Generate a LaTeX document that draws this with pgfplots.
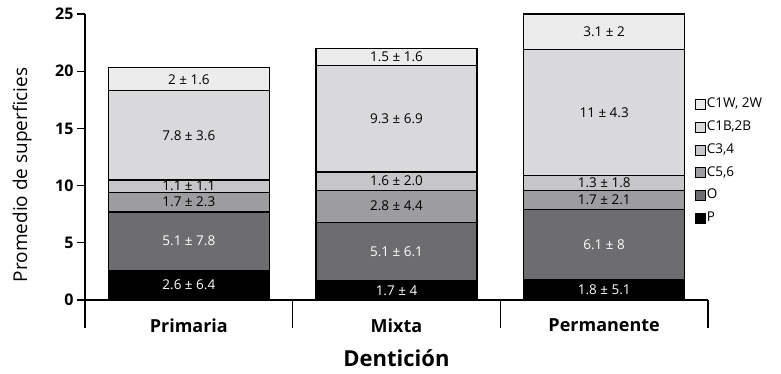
\documentclass[border=0pt]{standalone}
\usepackage{pgfplots}
\usepackage{pgfplotstable}
\pgfplotsset{compat=1.18}
\usepackage{fontspec}
\setmainfont{Open Sans}
\definecolor{cP}{HTML}{000000}
\definecolor{cO}{HTML}{6D6D6F}
\definecolor{cC56}{HTML}{9D9D9F}
\definecolor{cC34}{HTML}{C6C6C8}
\definecolor{cC1B}{HTML}{D9D9DB}
\definecolor{cC1W}{HTML}{ECECEC}
\pgfplotstableread{
x P O C56 C34 C1B C1W
0 2.6 5.1 1.7 1.1 7.8 2
1 1.7 5.1 2.8 1.6 9.3 1.5
2 1.8 6.1 1.7 1.3 11 3.1
}\data
% labels at the middle of each segment
\pgfplotstableread[col sep=comma]{
x,y,l
0,1.3,2.6 ± 6.4
1,0.85,1.7 ± 4
2,0.9,1.8 ± 5.1
0,5.15,5.1 ± 7.8
1,4.25,5.1 ± 6.1
2,4.85,6.1 ± 8
}\whitelabels
\pgfplotstableread[col sep=comma]{
x,y,l
0,8.55,1.7 ± 2.3
1,8.2,2.8 ± 4.4
2,8.75,1.7 ± 2.1
0,9.95,1.1 ± 1.1
1,10.4,1.6 ± 2.0
2,10.25,1.3 ± 1.8
0,14.4,7.8 ± 3.6
1,15.85,9.3 ± 6.9
2,16.4,11 ± 4.3
0,19.3,2 ± 1.6
1,21.25,1.5 ± 1.6
2,23.45,3.1 ± 2
}\blacklabels
\begin{document}
\begin{tikzpicture}
\useasboundingbox (-85pt,-73pt) rectangle (696pt,300pt);
\begin{axis}[
  at={(0pt,0pt)}, anchor=south west,
  scale only axis, width=623pt, height=286pt,
  ybar stacked, bar width=161pt,
  xmin=-0.5, xmax=2.5, ymin=0, ymax=25,
  clip=false,
  axis x line*=bottom, axis y line*=left,
  axis line style={black, line width=1.3pt},
  xtick={0,1,2}, xticklabels={Primaria,Mixta,Permanente},
  major x tick style={draw=none},
  xticklabel style={font=\bfseries\fontsize{18}{18}\selectfont, yshift=-7pt},
  extra x ticks={-0.5,0.5,1.5,2.5}, extra x tick labels={},
  extra x tick style={major tick length=28pt, tick align=outside,
     major x tick style={draw=black, line width=1.3pt}},
  ytick={0,5,...,25}, tick align=outside, major tick length=8pt,
  ytick style={black, line width=1.3pt},
  yticklabel style={font=\bfseries\fontsize{16}{16}\selectfont},
  /pgf/number format/assume math mode=true,
  ylabel={Promedio de superficies},
  ylabel style={at={(axis description cs:-0.101,0.437)}, anchor=center,
     font=\fontsize{19}{19}\selectfont},
  xlabel={\textbf{Dentición}},
  xlabel style={at={(axis description cs:0.5,-0.203)}, anchor=center,
     font=\fontsize{22}{22}\selectfont},
  every axis plot/.append style={draw=black, line width=1.3pt},
  legend style={draw=none, fill=none, at={(axis description cs:0.979,0.708)}, anchor=north west,
     inner sep=0pt, row sep=9.3pt, font=\fontsize{13.5}{13.5}\selectfont,
     nodes={inner sep=1pt, text height=9pt, text depth=2.5pt},
     /tikz/every even column/.style={column sep=6pt}},
  legend cell align=left,
  reverse legend,
  legend image code/.code={\draw[#1, line width=0.8pt] (0pt,-5pt) rectangle (10pt,5pt);},
]
\addplot[fill=cP] table[x=x,y=P]{\data};
\addplot[fill=cO] table[x=x,y=O]{\data};
\addplot[fill=cC56] table[x=x,y=C56]{\data};
\addplot[fill=cC34] table[x=x,y=C34]{\data};
\addplot[fill=cC1B] table[x=x,y=C1B]{\data};
\addplot[fill=cC1W] table[x=x,y=C1W]{\data};
\legend{P,O,{C5,6},{C3,4},{C1B,2B},{C1W, 2W}}
\end{axis}
\begin{axis}[
  at={(0pt,0pt)}, anchor=south west,
  scale only axis, width=623pt, height=286pt,
  xmin=-0.5, xmax=2.5, ymin=0, ymax=25,
  hide axis, clip=false,
  point meta=explicit symbolic,
  nodes near coords,
  every node near coord/.append style={anchor=center, inner sep=0pt, font=\fontsize{13.5}{13.5}\selectfont},
]
\addplot[only marks, mark=none, every node near coord/.append style={text=white}] table[x=x,y=y,meta=l]{\whitelabels};
\addplot[only marks, mark=none, every node near coord/.append style={text=black}] table[x=x,y=y,meta=l]{\blacklabels};
\end{axis}
\end{tikzpicture}
\end{document}
